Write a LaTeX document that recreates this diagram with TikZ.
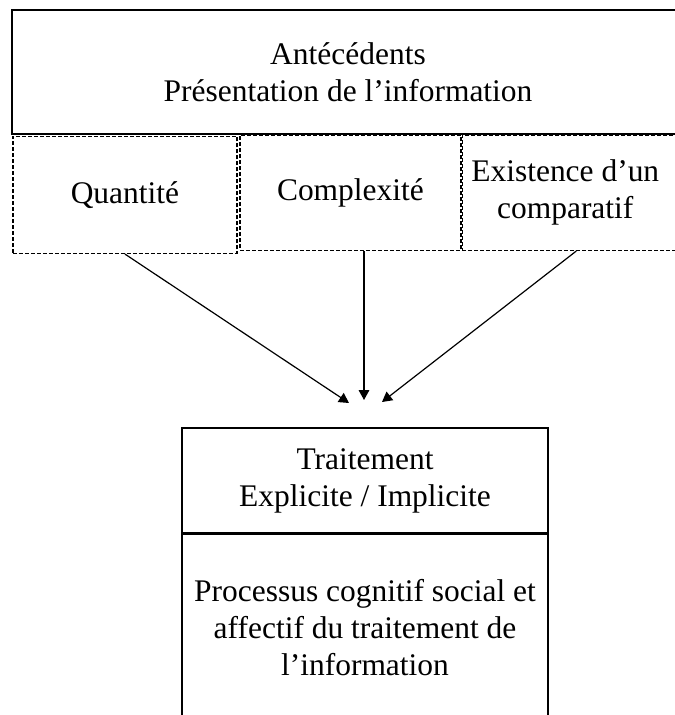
\documentclass[tikz,border=0pt]{standalone}
\usepackage{fontspec}
\setmainfont{Liberation Serif}
\usetikzlibrary{positioning,arrows.meta}

\begin{document}
\begin{tikzpicture}[x=0.75pt,y=-0.75pt,node distance=0pt,>={Triangle[length=7.5pt,width=8pt]},font=\fontsize{23.6}{27.75}\selectfont]
\tikzstyle{block}=[rectangle,draw,line width=1.1pt,align=center,inner sep=0pt,minimum width=274.5pt]
\tikzstyle{dotbox}=[rectangle,draw,dash pattern=on 3pt off 1.5pt,line width=1pt,align=center,inner sep=0pt,minimum height=86.25pt]
\useasboundingbox (0,0) rectangle (675,715);
\clip (0,0) rectangle (675,715);

\node[block,minimum width=504pt,minimum height=93pt] (A) at (348,72) {Antécédents\\Présentation de l’information};
\node[dotbox,minimum width=168pt,minimum height=87.75pt,below right=0.75pt and 0.75pt of A.south west] (Q) {Quantité};
\node[dotbox,minimum width=165.75pt,below right=0pt and 171pt of A.south west] (C) {Complexité};
\node[dotbox,minimum width=171pt,right=0pt of C,
  label={[name=Etext,align=center,inner sep=0pt,xshift=-8.25pt]center:Existence d’un\\comparatif}] (E) {};

\node[block,minimum height=78.75pt] (T) at (365,480.5) {Traitement\\Explicite / Implicite};
\node[block,minimum height=140pt,below=0pt of T] (P) {Processus cognitif social et\\affectif du traitement de\\l’information};

\coordinate (tipQ) at (349,403);
\coordinate (tipC) at (364,400);
\coordinate (tipE) at (382,402);
\draw[->,line width=0.9pt] (Q.south) -- (tipQ);
\draw[->,line width=0.9pt] (tipC |- C.south) -- (tipC);
\draw[->,line width=0.9pt] (E.south) -- (tipE);
\end{tikzpicture}
\end{document}
